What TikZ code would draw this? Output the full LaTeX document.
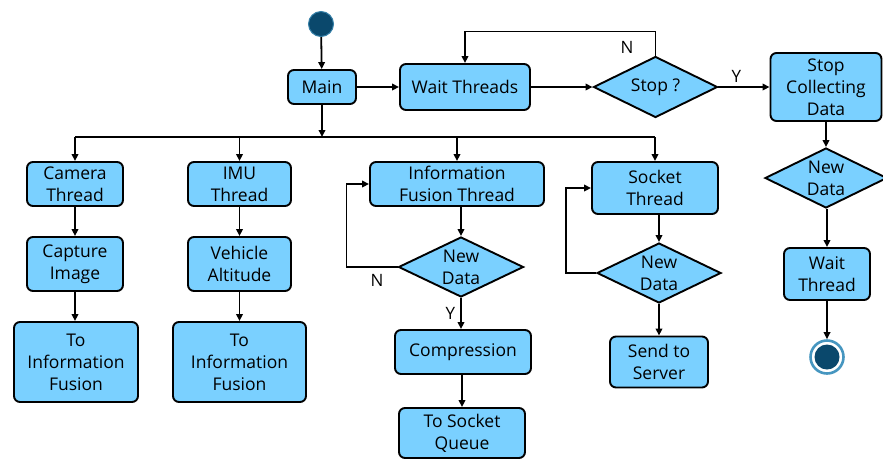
\documentclass[tikz,border=0pt]{standalone}
\usepackage{fontspec}
\setmainfont{Open Sans}
\usetikzlibrary{arrows.meta,shapes.geometric}
\definecolor{boxblue}{RGB}{122,208,255}
\definecolor{dotblue}{RGB}{10,72,108}
\definecolor{ringblue}{RGB}{70,150,192}
\tikzset{
  box/.style={draw=black, fill=boxblue, rounded corners=6pt, line width=1.9pt,
    align=center, inner sep=0pt, font=\fontsize{17.5}{22}\selectfont},
  dec/.style={draw=black, fill=boxblue, diamond, line width=1.9pt, inner sep=0pt,
    font=\fontsize{17.5}{22}\selectfont},
  lbl/.style={font=\fontsize{17}{20}\selectfont, inner sep=1pt},
  arr/.style={line width=1.8pt, -{Triangle[length=7pt,width=6.5pt]}},
  ln/.style={line width=1.8pt},
}
\begin{document}
\begin{tikzpicture}[x=1pt,y=-1pt]
\useasboundingbox (0,0) rectangle (883,459);

% start and main loop
\node[circle, fill=dotblue, draw=ringblue!70!dotblue, line width=1pt, minimum size=25pt, inner sep=0pt] (start) at (321,24) {};
\node[box, minimum width=68pt, minimum height=34pt] (main) at (322,87) {Main};
\node[box, minimum width=130pt, minimum height=46pt] (wait) at (465,87) {Wait Threads};
\node[dec, minimum width=124pt, minimum height=61pt,
  label={[font=\fontsize{17.5}{22}\selectfont]center:Stop ?}] (stop) at (655.5,87) {};
\node[box, minimum width=111pt, minimum height=68pt] (stopc) at (826,87) {Stop\\Collecting\\Data};

% worker threads
\node[box, minimum width=96pt, minimum height=44pt] (cam) at (75,184) {Camera\\Thread};
\node[box, minimum width=103pt, minimum height=44pt] (imu) at (239.5,184) {IMU\\Thread};
\node[box, minimum width=96pt, minimum height=54pt] (cap) at (75,264) {Capture\\Image};
\node[box, minimum width=103pt, minimum height=54pt] (veh) at (239.5,264) {Vehicle\\Altitude};
\node[box, minimum width=124pt, minimum height=80pt] (tif1) at (76,362) {To\\Information\\Fusion};
\node[box, minimum width=133pt, minimum height=80pt] (tif2) at (239.5,362) {To\\Information\\Fusion};

% information fusion thread
\node[box, minimum width=174pt, minimum height=44pt] (ift) at (457,184) {Information\\Fusion Thread};
\node[dec, minimum width=125pt, minimum height=60pt,
  label={[align=center,font=\fontsize{17.5}{22}\selectfont]center:New\\Data}] (nd1) at (461,267) {};
\node[box, minimum width=136pt, minimum height=44pt] (comp) at (463,352) {Compression};
\node[box, minimum width=126pt, minimum height=50pt] (queue) at (462,433) {To Socket\\Queue};

% socket thread
\node[box, minimum width=126pt, minimum height=52pt] (sock) at (655,188) {Socket\\Thread};
\node[dec, minimum width=124pt, minimum height=60pt,
  label={[align=center,font=\fontsize{17.5}{22}\selectfont]center:New\\Data}] (nd2) at (659,273) {};
\node[box, minimum width=98pt, minimum height=51pt] (sts) at (659,362) {Send to\\Server};

% shutdown column
\node[dec, minimum width=122pt, minimum height=60pt,
  label={[align=center,font=\fontsize{17.5}{22}\selectfont]center:New\\Data}] (nd3) at (826,178) {};
\node[box, minimum width=86pt, minimum height=52pt] (wt) at (827,274) {Wait\\Thread};
\node[circle, draw=ringblue, line width=2.6pt, fill=white, minimum size=33pt, inner sep=0pt] (end) at (827,357) {};
\fill[dotblue] (end.center) circle (12.5pt);

% connectors: top row
\draw[arr] (start) -- (main);
\draw[arr] (main) -- (wait);
\draw[arr] (wait) -- (stop);
\draw[arr] (stop) -- node[lbl, above=3pt, pos=0.35] {Y} (stopc);
\draw[arr] (stop.north) -- ++(0,-24) -| (wait.north);
\node[lbl] (nlab) at (627,47) {N};

% fork to the threads
\coordinate (bus) at (322,137);
\draw[arr] (main) -- (bus);
\draw[ln] (cam.north |- bus) -- (sock.north |- bus);
\draw[arr] (cam.north |- bus) -- (cam.north);
\draw[arr] (imu.north |- bus) -- (imu.north);
\draw[arr] (ift.north |- bus) -- (ift.north);
\draw[arr] (sock.north |- bus) -- (sock.north);

% camera and IMU chains
\draw[arr] (cam) -- (cap);
\draw[arr] (cap) -- (tif1.north -| cap);
\draw[arr] (imu) -- (veh);
\draw[arr] (veh) -- (tif2.north -| veh);

% information fusion chain
\draw[arr] (ift.south -| nd1.north) -- (nd1.north);
\draw[arr] (nd1.west) -- node[lbl, below=5pt, pos=0.4] {N} ++(-51,0) |- (ift.west);
\draw[arr] (nd1.south) -- node[lbl, left=4pt, pos=0.5] {Y} (nd1.south |- comp.north);
\draw[arr] (comp.south -| queue.north) -- (queue.north);

% socket chain
\draw[arr] (sock.south -| nd2.north) -- (nd2.north);
\draw[arr] (nd2.west) -- ++(-30,0) |- (sock.west);
\draw[arr] (nd2.south) -- (sts.north);

% shutdown chain
\draw[arr] (stopc) -- (nd3);
\draw[arr] (nd3.south -| wt.north) -- (wt.north);
\draw[arr] (wt) -- (end);
\end{tikzpicture}
\end{document}
